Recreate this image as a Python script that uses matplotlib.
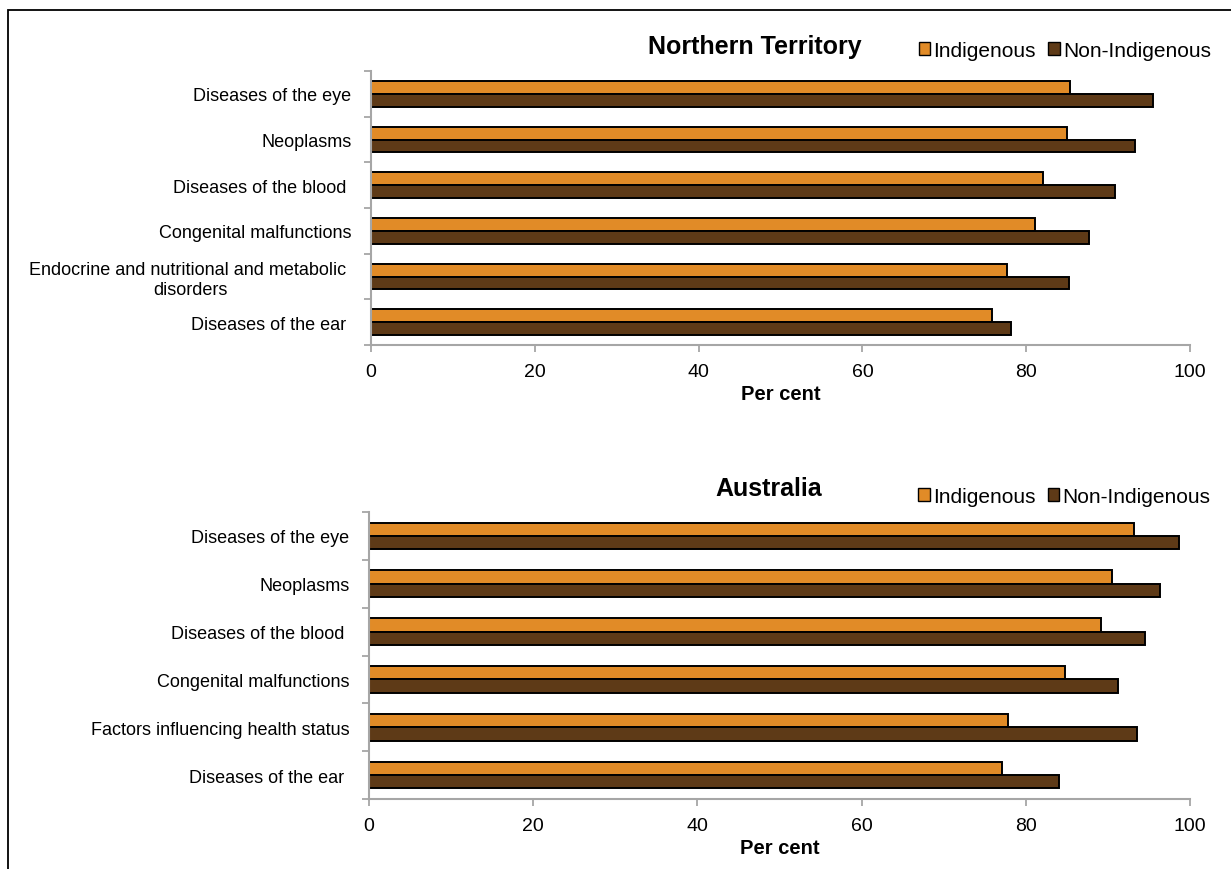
import numpy as np
import matplotlib.pyplot as plt
from matplotlib.patches import Patch, Rectangle

plt.rcParams['font.family'] = ['Liberation Sans', 'DejaVu Sans']

# --- dati ---
cat_nt = ['Diseases of the eye', 'Neoplasms', 'Diseases of the blood ',
          'Congenital malfunctions',
          'Endocrine and nutritional and metabolic \ndisorders',
          'Diseases of the ear ']
nt_ind = [85.4, 85.0, 82.0, 81.1, 77.7, 75.8]
nt_non = [95.5, 93.3, 90.9, 87.7, 85.2, 78.2]

cat_au = ['Diseases of the eye', 'Neoplasms', 'Diseases of the blood ',
          'Congenital malfunctions', 'Factors influencing health status',
          'Diseases of the ear ']
au_ind = [93.2, 90.5, 89.2, 84.8, 77.8, 77.1]
au_non = [98.6, 96.3, 94.5, 91.2, 93.6, 84.0]

col_ind = '#E18B27'
col_non = '#5E3A17'
grigio = '#A6A6A6'

W, H = 1231, 870
fig = plt.figure(figsize=(W / 100, H / 100), dpi=100)

# cornice della figura (solo sopra e a sinistra sono visibili)
fig.patches.append(Rectangle((8 / W, -0.05), 1.0, 1 - 11 / H + 0.05,
                             transform=fig.transFigure, fill=False,
                             edgecolor='black', linewidth=1.3))

ax1 = fig.add_axes([371 / W, 1 - 346 / H, 819 / W, 274 / H])
ax2 = fig.add_axes([369 / W, 1 - 800 / H, 821 / W, 287 / H])


def disegna(ax, categorie, ind, non, titolo, x_titolo, y_titolo, y_leg):
    n = len(categorie)
    y = np.arange(n)
    h = 0.28
    ax.barh(y - h / 2, ind, height=h, color=col_ind, edgecolor='black',
            linewidth=1.4)
    ax.barh(y + h / 2, non, height=h, color=col_non, edgecolor='black',
            linewidth=1.4)
    ax.set_ylim(n - 0.5, -0.5)
    ax.set_xlim(0, 100)
    ax.set_xticks([0, 20, 40, 60, 80, 100])
    # tacche tra le categorie, etichette al centro
    ax.set_yticks(np.arange(n + 1) - 0.5)
    ax.set_yticklabels([''] * (n + 1))
    ax.set_yticks(y, minor=True)
    ax.set_yticklabels(categorie, minor=True, fontsize=13, ha='right',
                       multialignment='center')
    ax.tick_params(axis='y', which='minor', length=0, pad=14)
    ax.tick_params(axis='y', which='major', length=5, color=grigio,
                   width=1.3, direction='out')
    ax.tick_params(axis='x', length=5, color=grigio, width=1.3,
                   direction='out', labelsize=14, pad=8)
    for s in ['top', 'right']:
        ax.spines[s].set_visible(False)
    for s in ['left', 'bottom']:
        ax.spines[s].set_color(grigio)
        ax.spines[s].set_linewidth(1.5)
    ax.set_xlabel('Per cent', fontsize=14.5, fontweight='bold', labelpad=3)
    ax.text(x_titolo, y_titolo, titolo, transform=ax.transAxes, ha='center',
            va='center', fontsize=18, fontweight='bold')
    handles = [Patch(facecolor=col_ind, edgecolor='black', label='Indigenous'),
               Patch(facecolor=col_non, edgecolor='black', label='Non-Indigenous')]
    ax.legend(handles=handles, loc='center', bbox_to_anchor=(0.847, y_leg),
              ncol=2, frameon=False, fontsize=15, handlelength=0.55,
              handleheight=0.55, handletextpad=0.15, columnspacing=0.6,
              borderaxespad=0, borderpad=0)


disegna(ax1, cat_nt, nt_ind, nt_non, 'Northern Territory', 0.469, 1.09, 1.075)
disegna(ax2, cat_au, au_ind, au_non, 'Australia', 0.487, 1.085, 1.055)

plt.savefig('out.png', dpi=100)
